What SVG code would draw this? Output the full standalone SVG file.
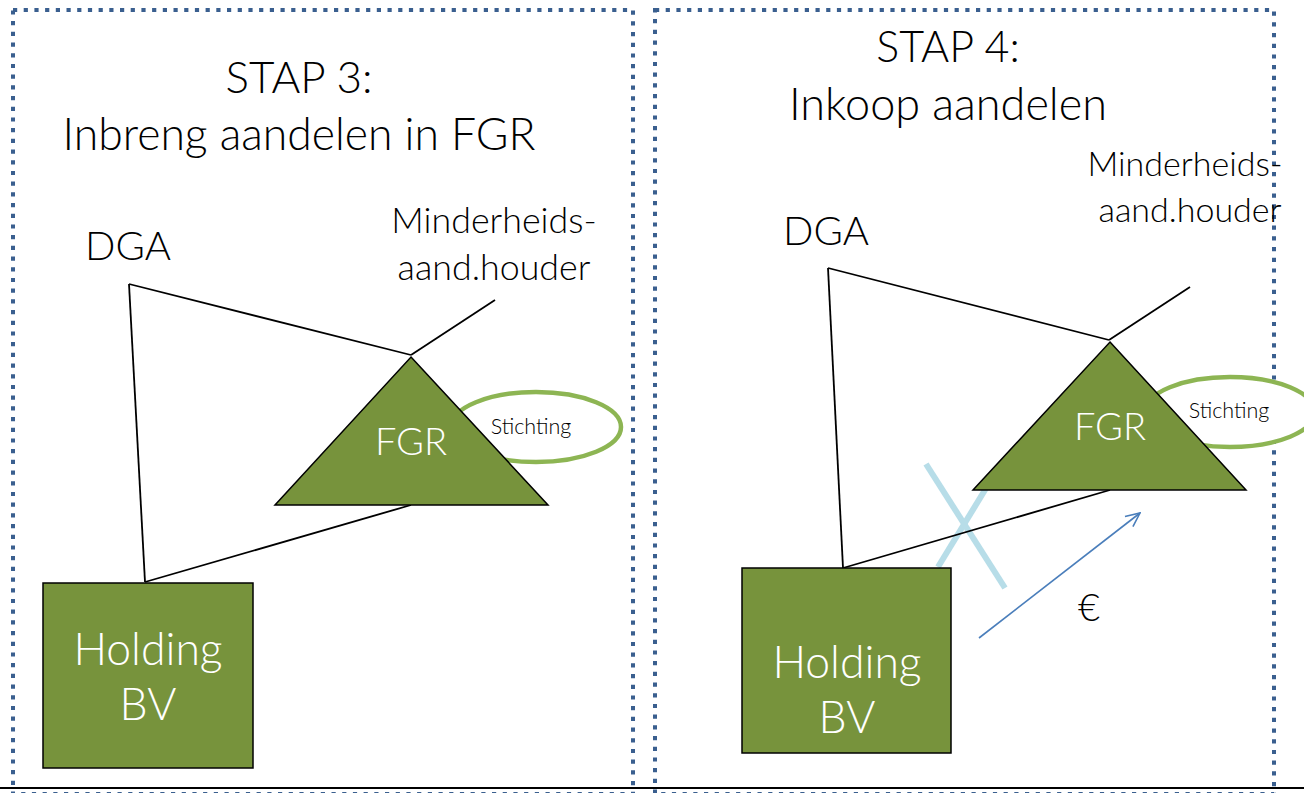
<svg xmlns="http://www.w3.org/2000/svg" width="1304" height="793" viewBox="0 0 1304 793">
  <defs>
    <style>
      .frame { fill: none; stroke: #3A5F8F; stroke-width: 4; stroke-dasharray: 4.2 6.5; }
      .txt { font-family: Lato, "Open Sans", sans-serif; font-weight: 300; fill: #000; text-anchor: middle; }
      .wtxt { font-family: Lato, "Open Sans", sans-serif; font-weight: 300; fill: #fff; text-anchor: middle; }
      .shape { fill: #77933C; stroke: #000; stroke-width: 1.5; }
      .link { stroke: #000; stroke-width: 1.8; fill: none; }
      .ring { fill: #fff; stroke: #8DB553; stroke-width: 4.5; }
      .cross { stroke: #B7DDE8; stroke-width: 6; }
    </style>
    <marker id="arrow" viewBox="0 0 16 16" refX="15" refY="8" markerWidth="16" markerHeight="16" markerUnits="userSpaceOnUse" orient="auto">
      <path d="M1,1.5 L15,8 L1,14.5" fill="none" stroke="#4A7EBB" stroke-width="1.6"/>
    </marker>
  </defs>
  <rect width="1304" height="793" fill="#fff"/>

  <!-- panel frames -->
  <g id="frames">
    <rect class="frame" x="13" y="10" width="620" height="784"/>
    <rect class="frame" x="655" y="10" width="619" height="784"/>
    <line x1="0" y1="788" x2="1304" y2="788" stroke="#000" stroke-width="2"/>
  </g>

  <!-- Step 3 -->
  <g id="title3">
    <text class="txt" x="299" y="93" font-size="44">STAP 3:</text>
    <text class="txt" x="299" y="150" font-size="44.5">Inbreng aandelen in FGR</text>
  </g>
  <g id="connectors3">
    <line class="link" x1="129" y1="284" x2="411" y2="355"/>
    <line class="link" x1="411" y1="355" x2="495" y2="300"/>
    <line class="link" x1="129" y1="284" x2="145" y2="582"/>
    <line class="link" x1="145" y1="582" x2="411" y2="505"/>
  </g>
  <g id="dga3">
    <text class="txt" x="128" y="260" font-size="40">DGA</text>
  </g>
  <g id="minority3">
    <text class="txt" x="494" y="233" font-size="35.8">Minderheids-</text>
    <text class="txt" x="494" y="280" font-size="35.8">aand.houder</text>
  </g>
  <g id="stichting3">
    <ellipse class="ring" cx="536" cy="427" rx="85" ry="35"/>
    <text class="txt" x="531" y="434" font-size="21.5">Stichting</text>
  </g>
  <g id="fgr3">
    <polygon class="shape" points="411,357 548,505 275,505"/>
    <text class="wtxt" x="411" y="455" font-size="38">FGR</text>
  </g>
  <g id="holding3">
    <rect class="shape" x="43" y="583" width="210" height="185"/>
    <text class="wtxt" x="148" y="665" font-size="44.5">Holding</text>
    <text class="wtxt" x="148" y="720" font-size="44.5">BV</text>
  </g>

  <!-- Step 4 -->
  <g id="title4">
    <text class="txt" x="948" y="62" font-size="43">STAP 4:</text>
    <text class="txt" x="948" y="120" font-size="45">Inkoop aandelen</text>
  </g>
  <g id="cancelled">
    <line class="cross" x1="926" y1="464" x2="1005" y2="588"/>
    <line class="cross" x1="938" y1="567" x2="988" y2="485"/>
  </g>
  <g id="connectors4">
    <line class="link" x1="828" y1="268" x2="1109" y2="340"/>
    <line class="link" x1="1109" y1="340" x2="1190" y2="287"/>
    <line class="link" x1="828" y1="268" x2="843" y2="568"/>
    <line class="link" x1="843" y1="568" x2="1110" y2="490"/>
    <line x1="979" y1="638" x2="1140" y2="513" stroke="#4A7EBB" stroke-width="1.6" marker-end="url(#arrow)"/>
  </g>
  <g id="dga4">
    <text class="txt" x="826" y="245" font-size="40">DGA</text>
  </g>
  <g id="minority4">
    <text class="txt" x="1185" y="176" font-size="34">Minderheids-</text>
    <text class="txt" x="1190" y="222" font-size="34">aand.houder</text>
  </g>
  <g id="stichting4">
    <ellipse class="ring" cx="1230" cy="412" rx="85" ry="35"/>
    <text class="txt" x="1229" y="418" font-size="21.5">Stichting</text>
  </g>
  <g id="fgr4">
    <polygon class="shape" points="1110,342 1246,490 973,490"/>
    <text class="wtxt" x="1110" y="440" font-size="38">FGR</text>
  </g>
  <g id="holding4">
    <rect class="shape" x="742" y="568" width="209" height="185"/>
    <text class="wtxt" x="847" y="678" font-size="44.5">Holding</text>
    <text class="wtxt" x="847" y="733" font-size="44.5">BV</text>
  </g>
  <g id="euro">
    <text class="txt" x="1089" y="621" font-size="38">€</text>
  </g>
</svg>
